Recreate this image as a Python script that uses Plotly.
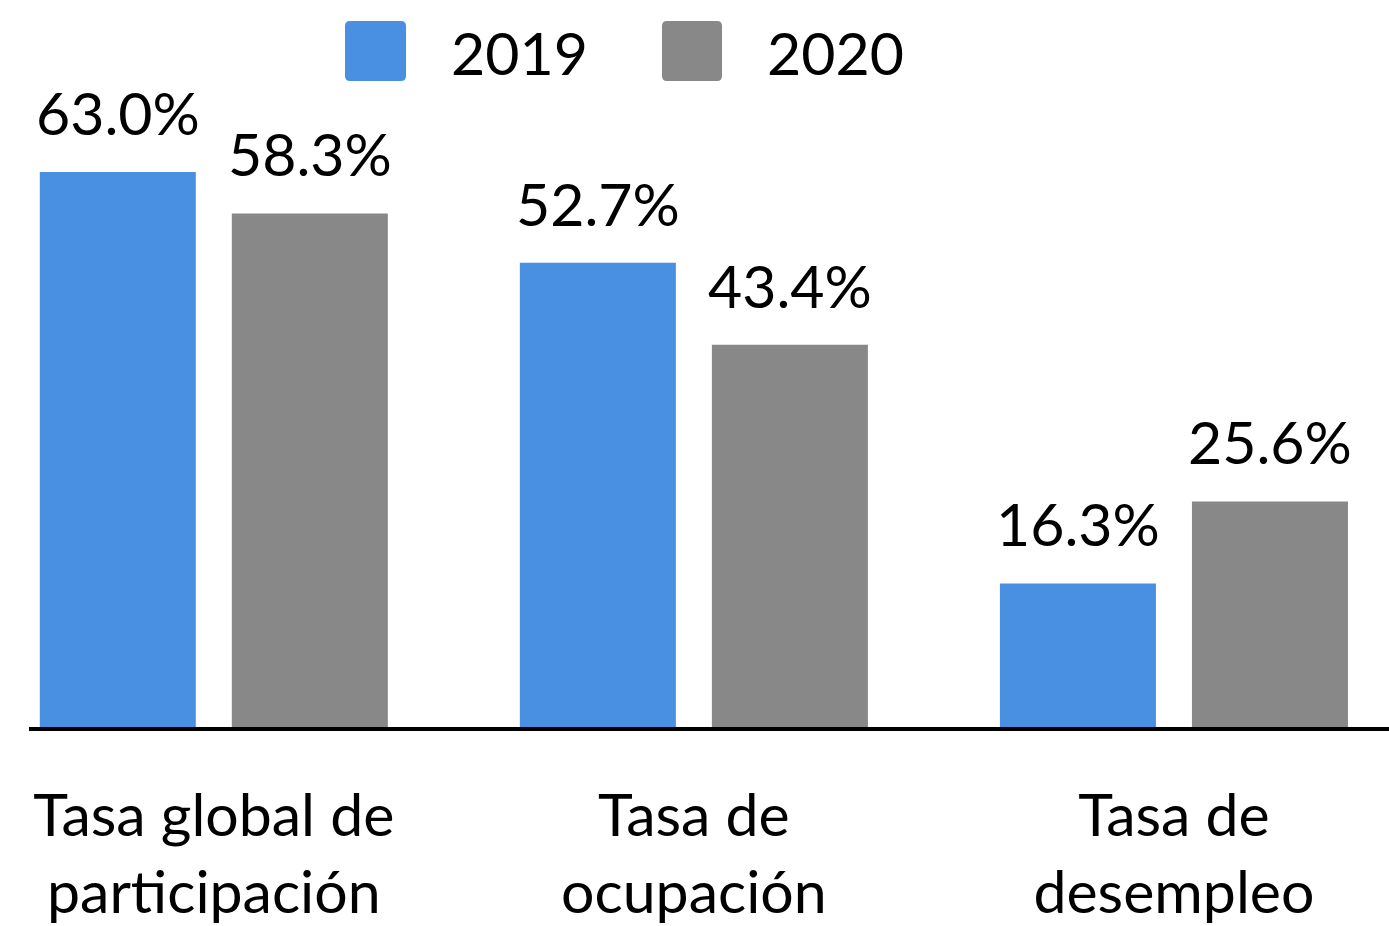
import plotly.graph_objects as go

categories = ["Tasa global de<br>participación", "Tasa de<br>ocupación", "Tasa de<br>desempleo"]
series_names = ["2019", "2020"]
values_2019 = [63.0, 52.7, 16.3]
values_2020 = [58.3, 43.4, 25.6]

BLUE = "#4A90E2"
GRAY = "#888888"
FONT = "Lato"
FS = 59

W, H = 1389, 926
ML, MR, MT, MB = 29, 0, 0, 199
PW = W - ML - MR
PH = H - MT - MB

x_idx = list(range(len(categories)))

fig = go.Figure()
bar_w = 156 / 480
offsets = [-174 / 480, 18 / 480]
for name, vals, col, off in zip(series_names, [values_2019, values_2020], [BLUE, GRAY], offsets):
    fig.add_trace(go.Bar(
        x=x_idx, y=vals, name=name, marker=dict(color=col, line=dict(width=0)),
        width=bar_w, offset=off, showlegend=False, hoverinfo="skip",
    ))

annotations = []
for vals, off in zip([values_2019, values_2020], offsets):
    for i, v in zip(x_idx, vals):
        annotations.append(dict(
            x=i + off + bar_w / 2, y=v, xref="x", yref="y", text=f"{v:.1f}%",
            showarrow=False, xanchor="center", yanchor="bottom", yshift=22,
            font=dict(family=FONT, size=FS, color="black"),
        ))

# legend drawn as rounded squares + text
def px_to_paper_x(px):
    return (px - ML) / PW

def py_to_paper_y(py):
    return (MT + PH - py) / PH

def rounded_rect(x0, y0, x1, y1, r):
    X0, X1 = px_to_paper_x(x0), px_to_paper_x(x1)
    Y0, Y1 = py_to_paper_y(y0), py_to_paper_y(y1)
    rx, ry = r / PW, r / PH
    return (f"M {X0+rx},{Y0} L {X1-rx},{Y0} Q {X1},{Y0} {X1},{Y0-ry} "
            f"L {X1},{Y1+ry} Q {X1},{Y1} {X1-rx},{Y1} L {X0+rx},{Y1} "
            f"Q {X0},{Y1} {X0},{Y1+ry} L {X0},{Y0-ry} Q {X0},{Y0} {X0+rx},{Y0} Z")

shapes = []
legend_boxes = [(345, 406), (662, 722)]
legend_text_x = [449, 765]
for name, col, (bx0, bx1), tx in zip(series_names, [BLUE, GRAY], legend_boxes, legend_text_x):
    shapes.append(dict(type="path", xref="paper", yref="paper",
                       path=rounded_rect(bx0, 21, bx1, 81, 5),
                       fillcolor=col, line=dict(width=0), layer="above"))
    annotations.append(dict(
        x=px_to_paper_x(tx), y=py_to_paper_y(53), xref="paper", yref="paper",
        text=name, showarrow=False, xanchor="left", yanchor="middle",
        font=dict(family=FONT, size=FS, color="black"),
    ))

fig.update_layout(
    width=W, height=H,
    margin=dict(l=ML, r=MR, t=MT, b=MB, pad=0),
    paper_bgcolor="white", plot_bgcolor="white",
    barmode="overlay",
    shapes=shapes, annotations=annotations,
    font=dict(family=FONT, size=FS, color="black"),
    xaxis=dict(
        tickmode="array", tickvals=x_idx, ticktext=categories,
        range=[-0.385, 2.448], showline=True, linecolor="black", linewidth=4,
        showgrid=False, zeroline=False, ticks="",
        tickfont=dict(family=FONT, size=FS, color="black"),
        ticklabelstandoff=34,
    ),
    yaxis=dict(range=[0, 727 / (555 / 63)], visible=False, showgrid=False, zeroline=False),
)

fig.write_html(
    "out.html",
    config={"displayModeBar": False},
    post_script="document.body.style.margin='0';document.body.style.overflow='hidden';",
)
